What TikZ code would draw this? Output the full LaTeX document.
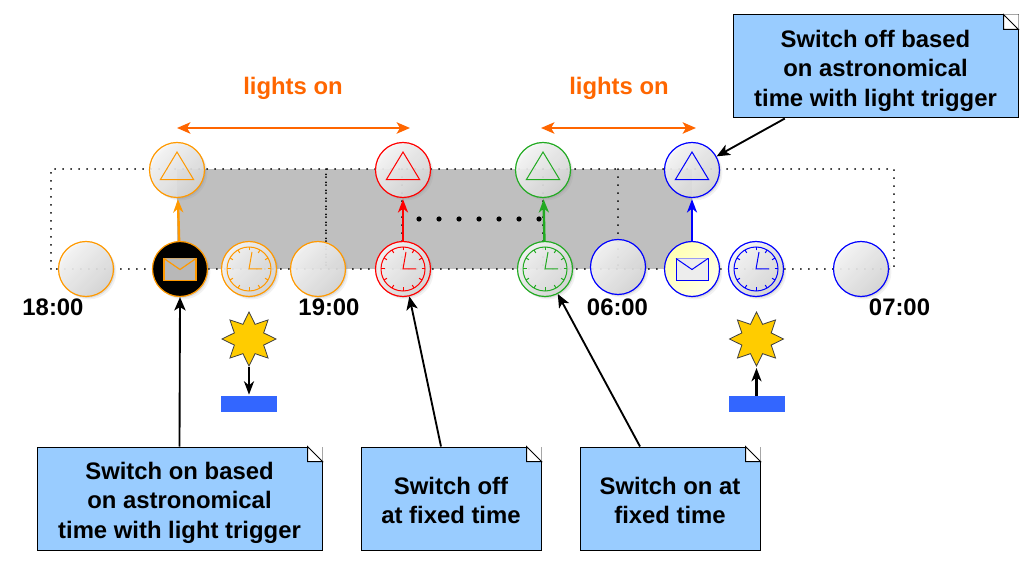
\documentclass[tikz,border=0pt]{standalone}
\usepackage{fontspec}
\setmainfont{Liberation Sans}
\usetikzlibrary{arrows.meta,shapes.geometric,shadows}
\definecolor{noteblue}{HTML}{99CCFF}
\definecolor{lampor}{HTML}{FF9900}
\definecolor{lampgr}{HTML}{22AA22}
\definecolor{lighton}{HTML}{FF6600}
\definecolor{sunyel}{HTML}{FFCC00}
\definecolor{barblue}{HTML}{3366FF}
\newcommand{\dropthree}{\rule{0pt}{19pt}}
\newcommand{\droptwo}{\rule{0pt}{16pt}}
\tikzset{
  bigfont/.style={font=\fontsize{17.9}{22.2}\selectfont\bfseries},
  lamp/.style={circle,draw=#1,line width=.9pt,minimum size=41.25pt,inner sep=0pt,
    drop shadow={shadow xshift=2.2pt,shadow yshift=-2.2pt,opacity=.1},
    drop shadow={shadow xshift=1.1pt,shadow yshift=-1.1pt,opacity=.2},
    left color=black!3,right color=black!17,shading angle=45,fill opacity=.9},
  notebox/.style={rectangle,draw=black,line width=.75pt,fill=noteblue,minimum height=77.25pt,
    minimum width=#1,align=center,bigfont},
  lift/.style={line width=1.8pt,shorten >=.8pt,-{Stealth[length=10pt,width=7.5pt,inset=3pt]}},
  pointer/.style={black,line width=1.4pt,-{Stealth[length=10pt,width=8.5pt,inset=2.5pt]}},
  span/.style={lighton,line width=1.7pt,{Stealth[length=10pt,width=8.5pt,inset=2.5pt]}-{Stealth[length=10pt,width=8.5pt,inset=2.5pt]}},
  grid/.style={black,line width=1.3pt,line cap=round,dash pattern=on .1pt off 5.9pt},
  sun/.style={star,star points=8,star point ratio=1.7,draw=black!75,line width=.6pt,fill=sunyel,
    minimum size=40.5pt,inner sep=0pt},
  sensor/.style={rectangle,fill=barblue,minimum width=42pt,minimum height=12pt,inner sep=0pt},
  clockface/.pic={
    \draw[pic actions] (0,0) circle (22);
    \foreach \a in {0,30,...,330}
      \draw[pic actions] (\a:18.5) -- (\a:22);
    \draw[pic actions] (3,-17) -- (0,0) -- (13,0);
  },
  mailicon/.pic={
    \draw[pic actions] (-16,-10.5) rectangle (16,11.5);
    \draw[pic actions] (-16,-10.5) -- (0,0.5) -- (16,-10.5);
  },
  warning/.pic={
    \draw[pic actions] (0,-18) -- (16.7,9.7) -- (-16.7,9.7) -- cycle;
  }
}
\begin{document}
\begin{tikzpicture}[x=.75pt,y=-.75pt]
  \useasboundingbox (0,0) rectangle (1034,566);

  % night band and the dotted time grid
  \fill[black!25] (177,169) rectangle (692,269);
  \draw[grid] (51,269) -- (51,169) -- (894,169) -- (894,269) -- cycle;
  \foreach \x in {326,402,543,618}
    \draw[grid] (\x,169) -- (\x,269);
  \draw[grid,dash phase=2pt] (326,169) -- (326,269);
  \foreach \x in {419,439,...,539}
    \fill[black] (\x,219) circle (2.6);

  % lamps
  \foreach \n/\c/\x/\y in {lampa/lampor/86/269, clocka/lampor/249/269, lampb/lampor/318/269,
    trion/lampor/177/170, trioff/red/403/170, clockoff/red/403/269,
    triback/lampgr/543/170, clockback/lampgr/545/269, lampc/blue/618/267,
    trilast/blue/692/170, clocklast/blue/756/269, lampd/blue/861/269}
    \node[lamp=\c] (\n) at (\x,\y) {};
  \node[lamp=lampor,left color=black,right color=black,fill opacity=1] (mailon) at (180,269) {};
  \node[lamp=blue,left color=yellow!30,right color=yellow!8,shading angle=45,fill opacity=1] (maillast) at (692,269) {};

  \pic[lampor,line width=.75pt] at (trion) {warning};
  \pic[red,line width=.75pt] at (trioff) {warning};
  \pic[lampgr,line width=.75pt] at (triback) {warning};
  \pic[blue,line width=.75pt] at (trilast) {warning};
  \pic[lampor,line width=.75pt] at (clocka) {clockface};
  \pic[red,line width=.75pt] at (clockoff) {clockface};
  \pic[lampgr,line width=.75pt] at (clockback) {clockface};
  \pic[blue,line width=.75pt] at (clocklast) {clockface};
  \pic[draw=lampor,fill=black!28,line width=.9pt] at (mailon) {mailicon};
  \pic[draw=blue,fill=black!7,line width=.75pt] at (maillast) {mailicon};

  \draw[lift,lampor] (mailon) -- (trion);
  \draw[lift,red] (clockoff) -- (trioff);
  \draw[lift,lampgr] (clockback) -- (triback);
  \draw[lift,blue] (maillast) -- (trilast);

  % lights on spans
  \coordinate (onaL) at (177,128);
  \coordinate (onaR) at (410,128);
  \coordinate (onbL) at (541,128);
  \coordinate (onbR) at (696,128);
  \draw[span] (onaL) -- (onaR);
  \draw[span] (onbL) -- (onbR);
  \node[bigfont,text=lighton] (ona) at (293,88.5) {lights on};
  \node[bigfont,text=lighton] (onb) at (619,88.5) {lights on};

  % times
  \node[bigfont] (ta) at (53,307.5) {18:00};
  \node[bigfont] (tb) at (329,307.5) {19:00};
  \node[bigfont] (tc) at (617.5,307.5) {06:00};
  \node[bigfont] (td) at (899.5,307.5) {07:00};

  % sun and sensor
  \node[sun] (suna) at (249,339) {};
  \node[sun] (sunb) at (756.5,339) {};
  \node[sensor] (bara) at (249,404) {};
  \node[sensor] (barb) at (756.5,404) {};
  \draw[lift,black] (suna) -- (bara);
  \draw[lift,black] (barb) -- (sunb);

  % notes
  \node[notebox=213.75pt] (noteon) at (179.5,498.5) {\dropthree Switch on based\\on astronomical\\time with light trigger};
  \node[notebox=135pt] (noteoff) at (451,498.5) {\droptwo Switch off\\at fixed time};
  \node[notebox=135pt] (noteback) at (670,498.5) {\droptwo Switch on at\\fixed time};
  \node[notebox=213.75pt] (notelast) at (875.5,66.5) {\dropthree Switch off based\\on astronomical\\time with light trigger};
  \foreach \n in {noteon,noteoff,noteback,notelast} {
    \fill[white] ([xshift=-11.25pt]\n.north east) -- (\n.north east) -- ([yshift=-11.25pt]\n.north east) -- cycle;
    \draw[line width=.75pt,fill=white] ([xshift=-11.25pt]\n.north east) -- ([yshift=-11.25pt]\n.north east)
      -- ([shift={(-11.25pt,-11.25pt)}]\n.north east) -- cycle;
  }

  \draw[pointer] (noteon.north) -- (mailon.south);
  \draw[pointer] ([xshift=-7.5pt]noteoff.north) -- (clockoff.-77);
  \draw[pointer] ([xshift=-22.5pt]noteback.north) -- (clockback.-63);
  \draw[pointer] ([xshift=-68pt]notelast.south) -- (trilast.29);
\end{tikzpicture}
\end{document}
